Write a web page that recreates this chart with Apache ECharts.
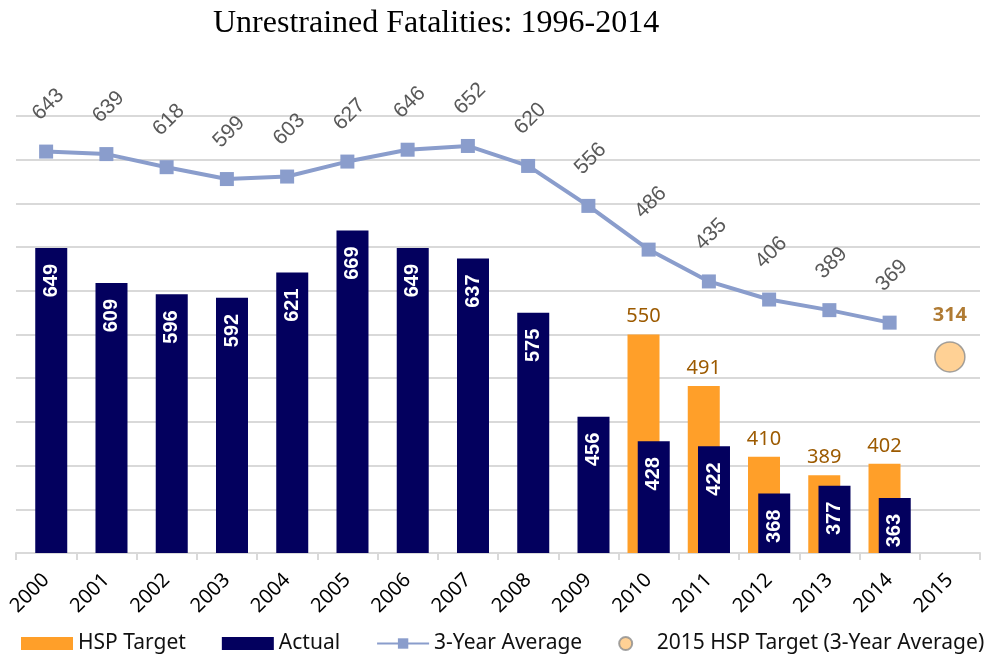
<!DOCTYPE html>
<html>
<head>
<meta charset="utf-8">
<script src="https://cdn.jsdelivr.net/npm/echarts@6.0.0/dist/echarts.min.js"></script>
<style>
  html, body { margin: 0; padding: 0; background: #fff; }
  #main { width: 993px; height: 655px; }
</style>
</head>
<body>
<div id="main"></div>
<script>
const years = ['2000', '2001', '2002', '2003', '2004', '2005', '2006', '2007',
  '2008', '2009', '2010', '2011', '2012', '2013', '2014', '2015'];
const hspTarget = [null, null, null, null, null, null, null, null,
  null, null, 550, 491, 410, 389, 402, null];
const actual = [649, 609, 596, 592, 621, 669, 649, 637,
  575, 456, 428, 422, 368, 377, 363, null];
const threeYearAvg = [643, 639, 618, 599, 603, 627, 646, 652,
  620, 556, 486, 435, 406, 389, 369, null];
const target2015 = [null, null, null, null, null, null, null, null,
  null, null, null, null, null, null, null, 314];

const orange = '#FF9F29';
const navy = '#03005E';
const lineBlue = '#8A9DCC';
const brown = '#9C5A00';
const gridGrey = '#D9D9D9';

const chart = echarts.init(document.getElementById('main'));

const option = {
  backgroundColor: '#fff',
  animation: false,
  title: {
    text: 'Unrestrained Fatalities: 1996-2014',
    left: 208,
    top: 3,
    textStyle: {
      fontFamily: 'Liberation Serif',
      fontSize: 32,
      fontWeight: 'normal',
      color: '#000'
    }
  },
  legend: {
    left: 16,
    top: 628,
    itemWidth: 52,
    itemHeight: 13,
    itemGap: 36,
    textStyle: {
      fontFamily: 'Noto Sans',
      fontSize: 21,
      color: '#111'
    },
    data: [
      { name: 'HSP Target', icon: 'rect' },
      { name: 'Actual', icon: 'rect' },
      { name: '3-Year Average' },
      { name: '2015 HSP Target (3-Year Average)', icon: 'circle' }
    ]
  },
  grid: {
    left: 16,
    right: 13,
    top: 116,
    bottom: 102
  },
  xAxis: {
    type: 'category',
    data: years,
    axisLine: { lineStyle: { color: gridGrey, width: 2 } },
    axisTick: { show: true, length: 7, lineStyle: { color: gridGrey, width: 2 } },
    axisLabel: {
      rotate: 45,
      margin: 24,
      interval: 0,
      fontFamily: 'Noto Sans',
      fontSize: 20,
      color: '#000'
    }
  },
  yAxis: [
    {
      type: 'value',
      min: 300,
      max: 800,
      interval: 50,
      axisLabel: { show: false },
      axisLine: { show: false },
      axisTick: { show: false },
      splitLine: { lineStyle: { color: gridGrey, width: 2 } }
    },
    {
      type: 'value',
      min: 0,
      max: 700,
      interval: 70,
      show: false,
      splitLine: { show: false }
    }
  ],
  series: [
    {
      name: 'HSP Target',
      type: 'bar',
      data: hspTarget,
      barWidth: 32,
      barGap: '-68%',
      itemStyle: { color: orange },
      label: {
        show: true,
        position: 'top',
        distance: 8,
        fontFamily: 'Noto Sans',
        fontSize: 20,
        color: brown
      }
    },
    {
      name: 'Actual',
      type: 'bar',
      data: actual,
      barWidth: 32,
      itemStyle: { color: navy },
      label: {
        show: true,
        position: 'insideTop',
        rotate: 90,
        align: 'right',
        verticalAlign: 'middle',
        distance: 16,
        fontFamily: 'Liberation Sans',
        fontWeight: 'bold',
        fontSize: 20,
        color: '#fff'
      }
    },
    {
      name: '3-Year Average',
      type: 'line',
      yAxisIndex: 1,
      data: threeYearAvg,
      symbol: 'rect',
      symbolSize: 14,
      z: 5,
      lineStyle: { color: lineBlue, width: 4 },
      itemStyle: { color: lineBlue },
      label: {
        show: true,
        position: 'top',
        distance: 38,
        offset: [3, 0],
        rotate: 45,
        align: 'center',
        verticalAlign: 'middle',
        fontFamily: 'Liberation Sans',
        fontSize: 21,
        color: '#595959'
      }
    },
    {
      name: '2015 HSP Target (3-Year Average)',
      type: 'scatter',
      yAxisIndex: 1,
      data: target2015,
      symbol: 'circle',
      symbolSize: 30,
      z: 5,
      itemStyle: { color: '#FFC57A', borderColor: '#8C8C8C', borderWidth: 1.5 },
      label: {
        show: true,
        position: 'top',
        distance: 26,
        verticalAlign: 'middle',
        fontFamily: 'Noto Sans',
        fontWeight: 'bold',
        fontSize: 20,
        color: brown
      }
    }
  ]
};

chart.setOption(option);
</script>
</body>
</html>
